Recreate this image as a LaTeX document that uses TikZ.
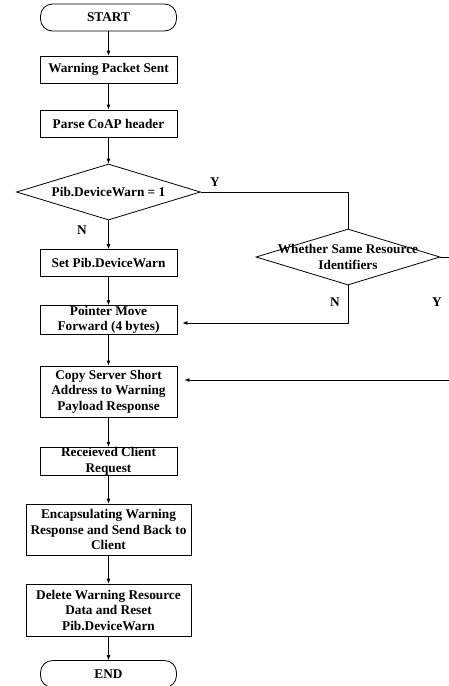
\documentclass[tikz,border=0pt]{standalone}
\usepackage{fontspec}
\setmainfont{Liberation Serif}
\usetikzlibrary{shapes.geometric,arrows.meta}
\begin{document}
\begin{tikzpicture}[x=1pt,y=-1pt,line width=0.8pt,
  txt/.style={font=\bfseries\fontsize{13.3}{15.5}\selectfont, align=center, inner sep=0pt},
  procbox/.style={txt, draw, rectangle, inner xsep=0pt, inner ysep=0.5pt,
                  minimum width=137pt, minimum height=27pt},
  termbox/.style={txt, draw, rectangle, rounded corners=12pt,
                  minimum width=136pt, minimum height=27pt},
  decision/.style={draw, diamond, inner sep=0pt},
  arr/.style={-{Latex[length=5pt,width=4pt]}},
  yn/.style={txt}]
\useasboundingbox (0,0) rectangle (448,686);

% main column
\node[termbox] (start) at (108.5,17.5) {START};
\node[procbox] (warn) at (108.5,69.5) {Warning Packet Sent};
\node[procbox] (parse) at (108.5,123.5) {Parse CoAP header};
\node[decision, minimum width=184pt, minimum height=56pt] (d1) at (108.5,192) {};
\node[txt] (d1t) at (d1) {Pib.DeviceWarn = 1};
\node[procbox] (set) at (108.5,263) {Set Pib.DeviceWarn};
\node[procbox, minimum height=26pt] (pointer) at (108.5,320) {Pointer Move\\Forward (4 bytes)};
\node[procbox, minimum height=51pt] (copy) at (108.5,391.5) {Copy Server Short\\Address to Warning\\Payload Response};
\node[procbox] (recv) at (108.5,461.5) {Receieved Client\\Request};
\node[procbox, minimum width=165pt, minimum height=51pt] (enc) at (108.5,529.5) {Encapsulating Warning\\Response and Send Back to\\Client};
\node[procbox, minimum width=165pt, minimum height=52pt] (del) at (108.5,610) {Delete Warning Resource\\Data and Reset\\Pib.DeviceWarn};
\node[termbox] (end) at (108.5,674) {END};

% second decision
\node[decision, minimum width=184pt, minimum height=56pt] (d2) at (348,257) {};
\node[txt] (d2t) at (d2) {Whether Same Resource\\Identifiers};

% branch labels
\node[yn] (y1) at (215,182) {Y};
\node[yn] (n1) at (82,230) {N};
\node[yn] (n2) at (335,302) {N};
\node[yn] (y2) at (437,302) {Y};

% turning points of the side branches
\coordinate (nturn) at (348,323);
\coordinate (yturn) at (452,380);

% connectors
\draw[arr] (start) -- (warn);
\draw[arr] (warn) -- (parse);
\draw[arr] (parse) -- (d1);
\draw[arr] (d1) -- (set);
\draw[arr] (set) -- (pointer);
\draw[arr] (pointer) -- (copy);
\draw[arr] (copy) -- (recv);
\draw[arr] (recv) -- (enc);
\draw[arr] (enc) -- (del);
\draw[arr] (del) -- (end);
\draw (d1.east) -| (d2.north);
\draw[arr, shorten >=5pt] (d2.south) -- (nturn) -- (nturn -| pointer.east);
\draw[arr, shorten >=7pt] (d2.east) -| (yturn) -- (yturn -| copy.east);
\end{tikzpicture}
\end{document}
